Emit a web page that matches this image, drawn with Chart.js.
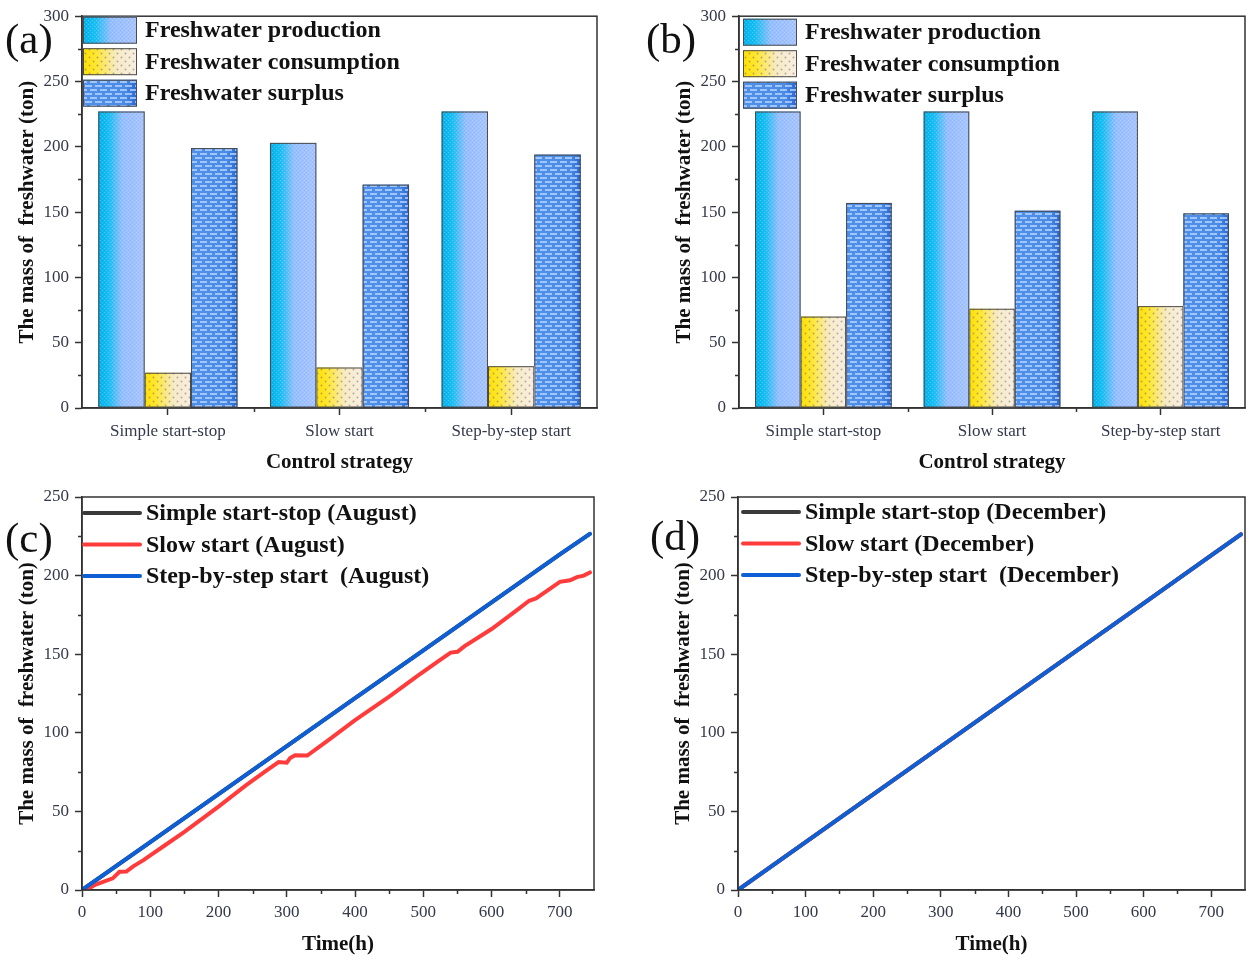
<!DOCTYPE html>
<html>
<head>
<meta charset="utf-8">
<title>Freshwater production under different control strategies</title>
<script src="https://cdn.jsdelivr.net/npm/chart.js@4.4.1/dist/chart.umd.min.js"></script>
<style>
  html, body { margin: 0; padding: 0; background: #fff; }
  #wrap { position: relative; width: 1250px; height: 960px; overflow: hidden; background: #fff; }
  #wrap canvas { position: absolute; }
  .tag { position: absolute; font-family: "Liberation Serif", "Times New Roman", serif; font-size: 43px; line-height: 1; color: #111; }
</style>
</head>
<body>
<div id="wrap">
  <canvas id="chartA" width="625" height="480" style="left:0;top:0"></canvas>
  <canvas id="chartB" width="610" height="480" style="left:640px;top:0"></canvas>
  <canvas id="chartC" width="625" height="480" style="left:0;top:480px"></canvas>
  <canvas id="chartD" width="610" height="480" style="left:640px;top:480px"></canvas>
  <div class="tag" style="left:5px;top:17px">(a)</div>
  <div class="tag" style="left:646px;top:17px">(b)</div>
  <div class="tag" style="left:5px;top:516px">(c)</div>
  <div class="tag" style="left:650px;top:514px">(d)</div>
</div>
<script>
// ---- bar panels: freshwater balance per control strategy (tons) ----
const strategies = ['Simple start-stop', 'Slow start', 'Step-by-step start'];
const augProduction = [227, 203, 227];
const augConsumption = [27, 31, 32];
const augSurplus = [199, 171, 194];
const decProduction = [227, 227, 227];
const decConsumption = [70, 76, 78];
const decSurplus = [157, 151, 149];

const massTicksBar = [0, 50, 100, 150, 200, 250, 300];
const massMinorBar = [25, 75, 125, 175, 225, 275];

// ---- line panels: cumulative freshwater over the month (hours, tons) ----
const augHours = [0, 100, 200, 300, 400, 500, 600, 700, 744];
const augSimple = [0, 30.5, 61, 91.5, 122, 152.5, 183, 213.5, 226.5];
const augStep = [0, 30.5, 61, 91.5, 122, 152.5, 183, 213.5, 226.5];
const augSlowHours = [0, 10, 20, 30, 45, 55, 65, 75, 90, 100, 120, 150, 200, 240, 270, 288, 300, 305, 312, 330,
  360, 400, 450, 492, 520, 540, 550, 560, 600, 640, 655, 665, 680, 700, 715, 725, 735, 744];
const augSlow = [0, 1, 3.5, 5, 7.4, 11.6, 11.7, 15, 19, 22, 28, 37, 53, 66.6, 76, 81.4, 81, 84, 85.7, 85.5,
  95, 108, 123, 136.4, 145, 151, 151.5, 155, 166, 179, 184, 185.5, 190, 196, 197, 199, 200, 202];

const decHours = [0, 100, 200, 300, 400, 500, 600, 700, 744];
const decSimple = [0, 30.4, 60.8, 91.2, 121.6, 152, 182.4, 212.8, 226.3];
const decSlow = [0, 30.4, 60.8, 91.2, 121.6, 152, 182.4, 212.8, 226.3];
const decStep = [0, 30.4, 60.8, 91.2, 121.6, 152, 182.4, 212.8, 226.3];

const massTicksLine = [0, 50, 100, 150, 200, 250];
const massMinorLine = [25, 75, 125, 175, 225];
const timeTicks = [0, 100, 200, 300, 400, 500, 600, 700];
const timeMinor = [50, 150, 250, 350, 450, 550, 650];

// ---- styling ----
const SERIF = '"Liberation Serif", "Times New Roman", serif';
const AXIS = '#333';
const TICK_TEXT = '#33384a';

function makeTile(w, h, paint) {
  const c = document.createElement('canvas');
  c.width = w; c.height = h;
  paint(c.getContext('2d'));
  return c;
}

const textures = {
  production: {
    stops: [[0, '#02b2ec'], [0.22, '#18bff3'], [0.52, '#96bffe'], [1, '#a8c5ff']],
    tile: makeTile(4, 4, g => {
      g.fillStyle = 'rgba(255,255,255,0.22)';
      g.fillRect(0, 0, 1, 1); g.fillRect(2, 2, 1, 1);
      g.fillStyle = 'rgba(40,80,170,0.10)';
      g.fillRect(2, 0, 1, 1); g.fillRect(0, 2, 1, 1);
    })
  },
  consumption: {
    stops: [[0, '#ffe000'], [0.25, '#ffe733'], [0.62, '#f7ebc6'], [1, '#f8eee3']],
    tile: makeTile(8, 8, g => {
      g.fillStyle = 'rgba(125,118,100,0.55)';
      g.beginPath(); g.arc(1.5, 1.5, 1, 0, Math.PI * 2); g.fill();
      g.beginPath(); g.arc(5.5, 5.5, 1, 0, Math.PI * 2); g.fill();
    })
  },
  surplus: {
    stops: [[0, '#4f90ea'], [0.78, '#4a8be6'], [1, '#2765cf']],
    tile: makeTile(10, 8, g => {
      g.fillStyle = 'rgba(190,216,255,0.75)';
      g.fillRect(0, 1, 7, 2);
      g.fillRect(5, 5, 5, 2); g.fillRect(0, 5, 2, 2);
    })
  }
};

function paintTexture(ctx, tex, left, top, w, h) {
  const g = ctx.createLinearGradient(left, 0, left + w, 0);
  tex.stops.forEach(([o, c]) => g.addColorStop(o, c));
  ctx.fillStyle = g;
  ctx.fillRect(left, top, w, h);
  ctx.fillStyle = ctx.createPattern(tex.tile, 'repeat');
  ctx.fillRect(left, top, w, h);
  ctx.strokeStyle = '#4a4a4a';
  ctx.lineWidth = 1;
  ctx.strokeRect(left + 0.5, top + 0.5, w - 1, h - 1);
}

// frame, minor ticks, textured bars and in-plot legend
const panelDecor = {
  id: 'panelDecor',
  afterDatasetDraw(chart, args) {
    const ds = chart.data.datasets[args.index];
    if (!ds.texture) return;
    const tex = textures[ds.texture];
    const ctx = chart.ctx;
    ctx.save();
    args.meta.data.forEach(bar => {
      const p = bar.getProps(['x', 'y', 'base', 'width'], true);
      const left = p.x - p.width / 2;
      const top = Math.min(p.y, p.base);
      paintTexture(ctx, tex, left, top, p.width, Math.abs(p.base - p.y));
    });
    ctx.restore();
  },
  afterDraw(chart, args, opts) {
    const ctx = chart.ctx;
    const area = chart.chartArea;
    const xs = chart.scales.x, ys = chart.scales.y;
    ctx.save();
    ctx.strokeStyle = AXIS;
    ctx.lineWidth = 1.5;
    ctx.strokeRect(area.left, area.top, area.right - area.left, area.bottom - area.top);

    // minor ticks
    ctx.beginPath();
    (opts.minorY || []).forEach(v => {
      const py = Math.round(ys.getPixelForValue(v)) + 0.5;
      ctx.moveTo(area.left - 4, py); ctx.lineTo(area.left, py);
    });
    (opts.minorX || []).forEach(v => {
      const px = Math.round(xs.getPixelForValue(v)) + 0.5;
      ctx.moveTo(px, area.bottom); ctx.lineTo(px, area.bottom + 4);
    });
    if (opts.categoryMinor) {
      for (let i = 0; i < xs.ticks.length - 1; i++) {
        const px = Math.round((xs.getPixelForTick(i) + xs.getPixelForTick(i + 1)) / 2) + 0.5;
        ctx.moveTo(px, area.bottom); ctx.lineTo(px, area.bottom + 4);
      }
    }
    ctx.stroke();

    // legend inside the plot area
    const lg = opts.legend;
    if (lg) {
      ctx.font = 'bold 24px ' + SERIF;
      ctx.textBaseline = 'middle';
      ctx.textAlign = 'left';
      chart.data.datasets.forEach((ds, i) => {
        const x = area.left + lg.dx;
        const cy = area.top + lg.dy + i * lg.step;
        if (lg.kind === 'box') {
          paintTexture(ctx, textures[ds.texture], x, cy - lg.h / 2, lg.w, lg.h);
        } else {
          ctx.strokeStyle = ds.borderColor;
          ctx.lineWidth = 4;
          ctx.lineCap = 'round';
          ctx.beginPath(); ctx.moveTo(x, cy); ctx.lineTo(x + lg.w, cy); ctx.stroke();
        }
        ctx.fillStyle = '#111';
        ctx.fillText(ds.label, x + lg.w + lg.gap, cy + 1);
      });
    }
    ctx.restore();
  }
};

function yTitle(pad) {
  return { display: true, text: 'The mass of  freshwater (ton)', color: '#111',
    font: { family: SERIF, size: 21, weight: 'bold' }, padding: { top: pad, bottom: 0 } };
}

function commonGrid() {
  return { display: true, drawOnChartArea: false, tickLength: 7, tickColor: AXIS, tickWidth: 1.5 };
}

function barChart(id, values, geom) {
  const [prod, cons, surp] = values;
  return new Chart(document.getElementById(id), {
    type: 'bar',
    data: {
      labels: strategies,
      datasets: [
        { label: 'Freshwater production', data: prod, texture: 'production', backgroundColor: '#9cc2ff', borderWidth: 0 },
        { label: 'Freshwater consumption', data: cons, texture: 'consumption', backgroundColor: '#f7ebc6', borderWidth: 0 },
        { label: 'Freshwater surplus', data: surp, texture: 'surplus', backgroundColor: '#4a8be6', borderWidth: 0 }
      ]
    },
    options: {
      responsive: false, animation: false, events: [],
      layout: { padding: { top: 15, right: geom.padRight, left: 0, bottom: 0 } },
      datasets: { bar: { categoryPercentage: 0.81, barPercentage: 1 } },
      plugins: {
        legend: { display: false }, tooltip: { enabled: false },
        panelDecor: { minorY: massMinorBar, categoryMinor: true, legend: geom.legend }
      },
      scales: {
        x: {
          grid: Object.assign(commonGrid(), { offset: false }),
          border: { color: AXIS, width: 1.5 },
          ticks: { font: { family: SERIF, size: 17 }, color: TICK_TEXT, padding: 6, maxRotation: 0, autoSkip: false },
          title: { display: true, text: 'Control strategy', color: '#111',
            font: { family: SERIF, size: 21, weight: 'bold' }, padding: { top: 0, bottom: 5 } },
          afterFit(s) { s.height = 72; }
        },
        y: {
          min: 0, max: 300,
          afterBuildTicks(s) { s.ticks = massTicksBar.map(v => ({ value: v })); },
          grid: commonGrid(),
          border: { color: AXIS, width: 1.5 },
          ticks: { font: { family: SERIF, size: 17 }, color: TICK_TEXT, padding: 6 },
          title: yTitle(geom.titlePad),
          afterFit(s) { s.width = geom.yWidth; }
        }
      }
    },
    plugins: [panelDecor]
  });
}

function points(xs, ys) { return xs.map((x, i) => ({ x: x, y: ys[i] })); }

function lineChart(id, series, geom) {
  return new Chart(document.getElementById(id), {
    type: 'line',
    data: {
      datasets: series.map(s => ({
        label: s.label, data: points(s.x, s.y), borderColor: s.color, borderWidth: 4,
        pointRadius: 0, tension: 0, fill: false, order: s.order, borderCapStyle: 'round'
      }))
    },
    options: {
      responsive: false, animation: false, events: [],
      layout: { padding: { top: 17, right: geom.padRight, left: 0, bottom: 0 } },
      plugins: {
        legend: { display: false }, tooltip: { enabled: false },
        panelDecor: { minorY: massMinorLine, minorX: timeMinor, legend: geom.legend }
      },
      scales: {
        x: {
          type: 'linear', min: 0, max: 750,
          afterBuildTicks(s) { s.ticks = timeTicks.map(v => ({ value: v })); },
          grid: commonGrid(),
          border: { color: AXIS, width: 1.5 },
          ticks: { font: { family: SERIF, size: 17 }, color: TICK_TEXT, padding: 5, maxRotation: 0 },
          title: { display: true, text: 'Time(h)', color: '#111',
            font: { family: SERIF, size: 21, weight: 'bold' }, padding: { top: 0, bottom: 3 } },
          afterFit(s) { s.height = 70; }
        },
        y: {
          min: 0, max: 250,
          afterBuildTicks(s) { s.ticks = massTicksLine.map(v => ({ value: v })); },
          grid: commonGrid(),
          border: { color: AXIS, width: 1.5 },
          ticks: { font: { family: SERIF, size: 17 }, color: TICK_TEXT, padding: 6 },
          title: yTitle(geom.titlePad),
          afterFit(s) { s.width = geom.yWidth; }
        }
      }
    },
    plugins: [panelDecor]
  });
}

const BLACK = '#3a3a3a', RED = '#ff3b3b', BLUE = '#0f5fd4';

barChart('chartA', [augProduction, augConsumption, augSurplus], {
  padRight: 28, yWidth: 82, titlePad: 15,
  legend: { kind: 'box', dx: 1, dy: 14, step: 31.5, w: 54, h: 27, gap: 8 }
});
barChart('chartB', [decProduction, decConsumption, decSurplus], {
  padRight: 5, yWidth: 99, titlePad: 32,
  legend: { kind: 'box', dx: 4, dy: 16, step: 31.5, w: 54, h: 27, gap: 8 }
});

lineChart('chartC', [
  { label: 'Simple start-stop (August)', x: augHours, y: augSimple, color: BLACK, order: 2 },
  { label: 'Slow start (August)', x: augSlowHours, y: augSlow, color: RED, order: 1 },
  { label: 'Step-by-step start  (August)', x: augHours, y: augStep, color: BLUE, order: 0 }
], {
  padRight: 31, yWidth: 82, titlePad: 15,
  legend: { kind: 'line', dx: 2, dy: 16, step: 31.5, w: 56, gap: 6 }
});

lineChart('chartD', [
  { label: 'Simple start-stop (December)', x: decHours, y: decSimple, color: BLACK, order: 2 },
  { label: 'Slow start (December)', x: decHours, y: decSlow, color: RED, order: 1 },
  { label: 'Step-by-step start  (December)', x: decHours, y: decStep, color: BLUE, order: 0 }
], {
  padRight: 5, yWidth: 98, titlePad: 31,
  legend: { kind: 'line', dx: 5, dy: 15, step: 31.5, w: 56, gap: 6 }
});
</script>
</body>
</html>
